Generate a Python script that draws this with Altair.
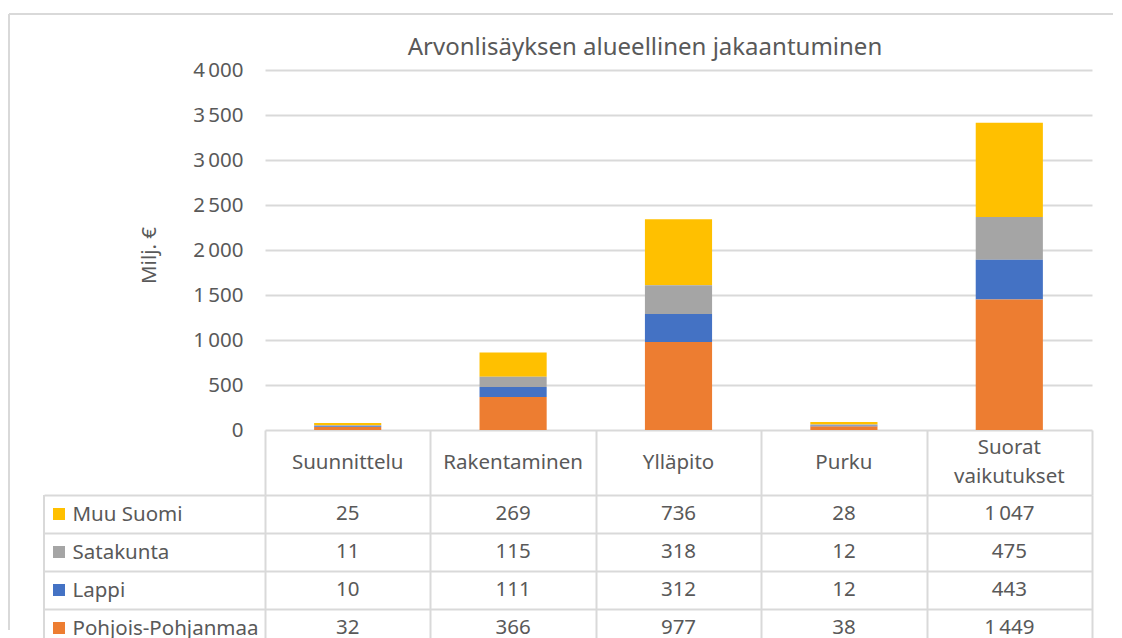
import altair as alt
import pandas as pd

# ---- data ----
title_text = ["Arvonlisäyksen alueellinen jakaantuminen"]
categories = ["Suunnittelu", "Rakentaminen", "Ylläpito", "Purku", "Suorat vaikutukset"]
header_labels = ["Suunnittelu", "Rakentaminen", "Ylläpito", "Purku", "Suorat\nvaikutukset"]
series = ["Muu Suomi", "Satakunta", "Lappi", "Pohjois-Pohjanmaa"]
colors = ["#FFC000", "#A5A5A5", "#4472C4", "#ED7D31"]
muu_suomi = [25, 269, 736, 28, 1047]
satakunta = [11, 115, 318, 12, 475]
lappi = [10, 111, 312, 12, 443]
pohjois_pohjanmaa = [32, 366, 977, 38, 1449]
y_ticks = [0, 500, 1000, 1500, 2000, 2500, 3000, 3500, 4000]

values_by_series = {
    "Muu Suomi": muu_suomi,
    "Satakunta": satakunta,
    "Lappi": lappi,
    "Pohjois-Pohjanmaa": pohjois_pohjanmaa,
}
rows = []
for s in series:
    for c, v in zip(categories, values_by_series[s]):
        rows.append({"category": c, "series": s, "value": v,
                     "stack": len(series) - 1 - series.index(s)})
df = pd.DataFrame(rows)
header_df = pd.DataFrame({"category": categories, "label": header_labels})
title_df = pd.DataFrame({"t": title_text})

FONT = "Noto Sans"
TXT = "#595959"
LINE = "#d9d9d9"
FS = 20.5

color_enc = alt.Color("series:N", scale=alt.Scale(domain=series, range=colors), legend=None)
band0 = alt.Scale(domain=categories, paddingInner=0, paddingOuter=0)

# ---- stacked bars ----
bars = alt.Chart(df).mark_bar(width={"band": 0.406}).encode(
    x=alt.X("category:N", scale=band0, sort=categories, axis=None),
    y=alt.Y("value:Q", stack="zero", scale=alt.Scale(domain=[0, 4000], nice=False),
            axis=alt.Axis(values=y_ticks, title="Milj. €",
                          labelExpr="replace(format(datum.value, ','), ',', '\u2009')",
                          grid=True, gridColor=LINE, gridWidth=2, ticks=False, domain=False,
                          labelPadding=22, labelFontSize=FS, labelColor=TXT, labelFont=FONT,
                          titleFontSize=FS, titleColor=TXT, titleFont=FONT,
                          titleFontWeight="normal", titlePadding=33, titleY=185)),
    color=color_enc,
    order=alt.Order("stack:Q", sort="ascending"),
)
frame_top = alt.Chart(df).mark_rule(color=LINE, strokeWidth=2).encode(
    x=alt.value(-256), x2=alt.value(848), y=alt.value(-56))
frame_left = alt.Chart(df).mark_rule(color=LINE, strokeWidth=2).encode(
    x=alt.value(-256), y=alt.value(-56), y2=alt.value(560))
title_mark = alt.Chart(title_df).mark_text(fontSize=24, font=FONT, color=TXT,
                                           baseline="middle", align="center").encode(
    text="t:N", x=alt.value(380), y=alt.value(-22))

top = alt.layer(frame_top, frame_left, title_mark, bars).properties(width=827, height=360)

# ---- header row ----
header = alt.Chart(header_df).transform_calculate(
    off="(length(split(datum.label, '\\n')) - 1) * -14.5"
).mark_text(lineBreak="\n", fontSize=FS, font=FONT, color=TXT,
            lineHeight=29, baseline="middle").encode(
    x=alt.X("category:N", scale=band0, sort=categories,
            axis=alt.Axis(title=None, labels=False, ticks=False, domain=False, grid=True,
                          tickBand="extent", gridColor=LINE, gridWidth=2)),
    y=alt.value(32.5),
    yOffset=alt.YOffset("off:Q", scale=None),
    text="label:N",
).properties(width=827, height=65)

# ---- data table ----
y_tab = alt.Y("series:N", scale=alt.Scale(domain=series, paddingInner=0, paddingOuter=0),
              sort=series,
              axis=alt.Axis(title=None, tickBand="extent", ticks=True, tickSize=221,
                            tickColor=LINE, tickWidth=2, grid=True, gridColor=LINE, gridWidth=2,
                            domain=False, labelAlign="left", labelPadding=-28, labelFontSize=FS,
                            labelColor=TXT, labelFont=FONT, labelBaseline="middle",
                            labelLimit=400))
x_tab = alt.X("category:N", scale=band0, sort=categories,
              axis=alt.Axis(title=None, labels=False, ticks=False, domain=False, grid=True,
                            tickBand="extent", gridColor=LINE, gridWidth=2))
cells = alt.Chart(df).transform_calculate(
    label="replace(format(datum.value, ','), ',', '\u2009')"
).mark_text(fontSize=FS, font=FONT, color=TXT, baseline="middle").encode(
    x=x_tab, y=y_tab, text="label:N")
squares = alt.Chart(df).mark_square(size=144, opacity=1).encode(
    x=alt.value(-206), y=y_tab, color=color_enc)
left_border = alt.Chart(df).mark_rule(color=LINE, strokeWidth=2).encode(
    x=alt.value(-221), y=alt.value(0), y2=alt.value(152))
table = alt.layer(left_border, squares, cells).properties(width=827, height=152)

chart = alt.vconcat(top, header, table, spacing=0, bounds="flush").resolve_scale(
    x="independent", y="independent"
).properties(
    padding={"left": 0, "top": 5, "right": 0, "bottom": 0}
).configure_view(stroke=None)

chart.save("out.html", embed_options={"renderer": "svg", "actions": False})
